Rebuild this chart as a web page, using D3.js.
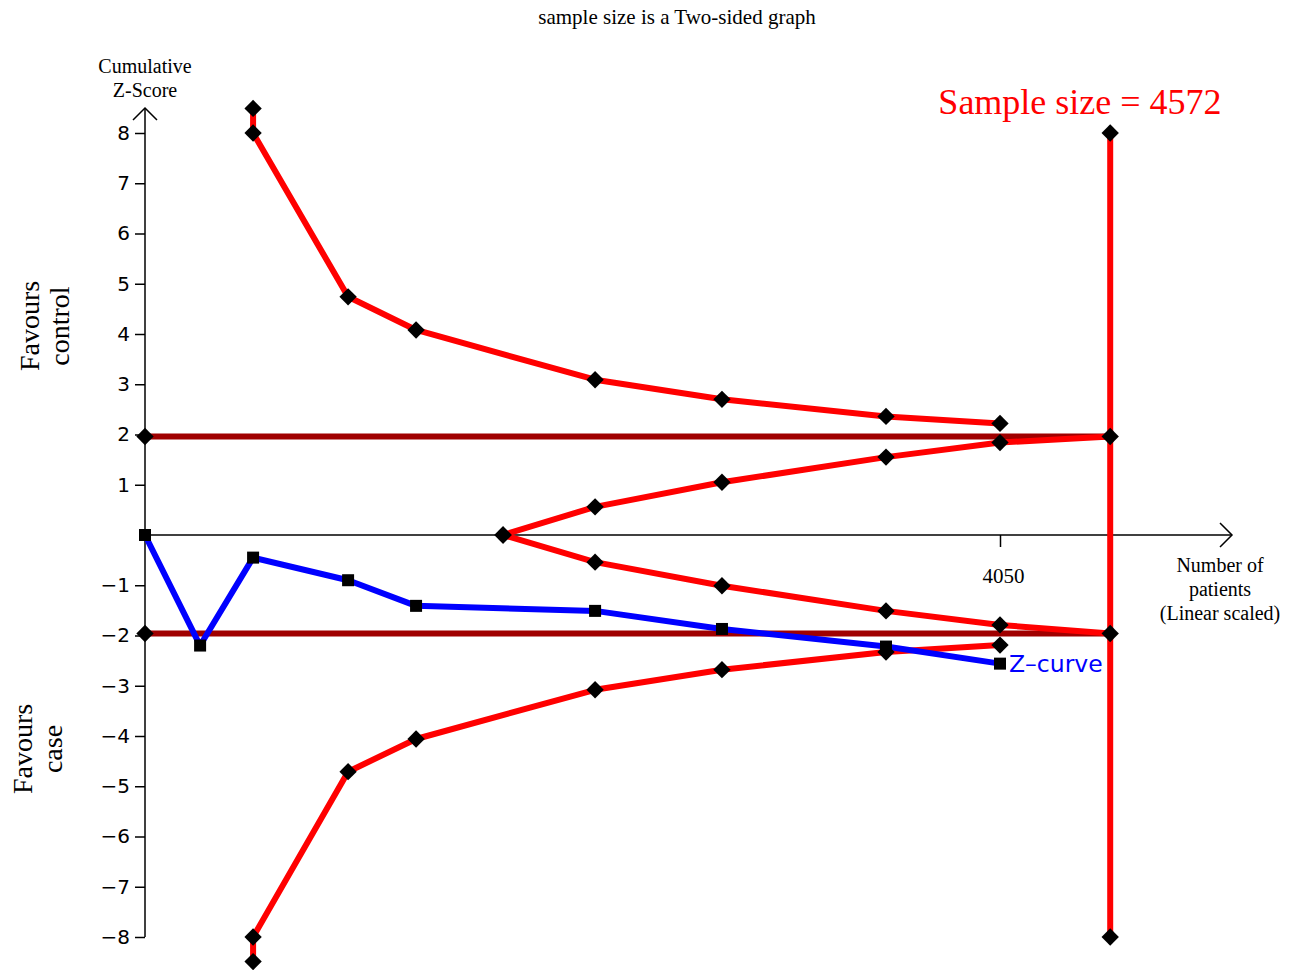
<!DOCTYPE html>
<html>
<head>
<meta charset="utf-8">
<script src="https://cdn.jsdelivr.net/npm/d3@7"></script>
<style>
  html, body { margin: 0; padding: 0; background: #fff; }
  svg { display: block; }
</style>
</head>
<body>
<svg id="chart" width="1299" height="970"></svg>
<script>
// Trial sequential analysis: cumulative Z-curve with monitoring and futility boundaries

const sampleSize = 4572;
const xTickValues = [4050];
const yTickValues = [-8, -7, -6, -5, -4, -3, -2, -1, 1, 2, 3, 4, 5, 6, 7, 8];
const conventional = 1.96;

// Number of patients at each interim look
const looks = [0, 261, 512, 962, 1284, 2132, 2733, 3510, 4050];

// Cumulative Z-curve
const zCurve = [0, -2.2, -0.45, -0.9, -1.41, -1.51, -1.87, -2.22, -2.56];

// Upper monitoring (alpha-spending) boundary
const upperX = [512, 512, 962, 1284, 2132, 2733, 3510, 4050];
const upperZ = [8.49, 8.0, 4.74, 4.08, 3.09, 2.70, 2.36, 2.22];

// Lower monitoring boundary
const lowerX = [512, 512, 962, 1284, 2132, 2733, 3510, 4050];
const lowerZ = [-8.49, -8.0, -4.71, -4.06, -3.08, -2.68, -2.33, -2.19];

// Futility (inner wedge) boundaries
const futX = [1696, 2132, 2733, 3510, 4050, 4572];
const futUpperZ = [0, 0.56, 1.05, 1.55, 1.84, 1.96];
const futLowerZ = [0, -0.54, -1.01, -1.51, -1.79, -1.96];

// Required sample size line
const sampleLineZ = [8, 1.96, -1.96, -8];

const svg = d3.select("#chart");
const serif = "'Liberation Serif', 'Times New Roman', serif";
const sans = "'DejaVu Sans', 'Liberation Sans', sans-serif";

const x = d3.scaleLinear().domain([0, 4050]).range([145, 1000]);
const y = d3.scaleLinear().domain([-8, 8]).range([937, 133]);

const xMaxArrow = x.invert(1232);
const yMaxArrow = y.invert(108);

// Title
svg.append("text")
  .attr("x", 677).attr("y", 24)
  .attr("text-anchor", "middle")
  .attr("font-family", serif).attr("font-size", 21)
  .text("sample size is a Two-sided graph");

// Y axis
const yAxis = d3.axisLeft(y)
  .tickValues(yTickValues)
  .tickSize(10)
  .tickPadding(5)
  .tickFormat(d => d3.format("d")(d).replace("-", "\u2212"));

const gy = svg.append("g")
  .attr("transform", `translate(${x(0)},0)`)
  .call(yAxis);
gy.select(".domain").remove();
gy.selectAll(".tick line").attr("stroke", "#000").attr("stroke-width", 1.5);
gy.selectAll(".tick text")
  .attr("font-family", sans).attr("font-size", 20).attr("fill", "#000");

svg.append("line")
  .attr("x1", x(0)).attr("x2", x(0))
  .attr("y1", y(-8)).attr("y2", y(yMaxArrow))
  .attr("stroke", "#000").attr("stroke-width", 1.5);
svg.append("path")
  .attr("d", `M${x(0) - 12},${y(yMaxArrow) + 12} L${x(0)},${y(yMaxArrow)} L${x(0) + 12},${y(yMaxArrow) + 12}`)
  .attr("fill", "none").attr("stroke", "#000").attr("stroke-width", 1.5);

// X axis
svg.append("line")
  .attr("x1", x(0)).attr("x2", x(xMaxArrow))
  .attr("y1", y(0)).attr("y2", y(0))
  .attr("stroke", "#000").attr("stroke-width", 1.5);
svg.append("path")
  .attr("d", `M${x(xMaxArrow) - 12},${y(0) - 12} L${x(xMaxArrow)},${y(0)} L${x(xMaxArrow) - 12},${y(0) + 12}`)
  .attr("fill", "none").attr("stroke", "#000").attr("stroke-width", 1.5);

const xAxis = d3.axisBottom(x)
  .tickValues(xTickValues)
  .tickSize(12)
  .tickPadding(21)
  .tickFormat(d3.format("d"));
const gx = svg.append("g")
  .attr("transform", `translate(0,${y(0)})`)
  .call(xAxis);
gx.select(".domain").remove();
gx.selectAll(".tick line").attr("stroke", "#000").attr("stroke-width", 1.5);
gx.selectAll(".tick text")
  .attr("font-family", serif).attr("font-size", 21).attr("fill", "#000")
  .attr("dx", 3);

// Axis titles
const yTitle = svg.append("text")
  .attr("text-anchor", "middle")
  .attr("font-family", serif).attr("font-size", 20);
yTitle.append("tspan").attr("x", 145).attr("y", 73).text("Cumulative");
yTitle.append("tspan").attr("x", 145).attr("y", 97).text("Z-Score");

const xTitle = svg.append("text")
  .attr("text-anchor", "middle")
  .attr("font-family", serif).attr("font-size", 20);
xTitle.append("tspan").attr("x", 1220).attr("y", 572).text("Number of");
xTitle.append("tspan").attr("x", 1220).attr("y", 596).text("patients");
xTitle.append("tspan").attr("x", 1220).attr("y", 620).text("(Linear scaled)");

function sideLabel(cx, cy, lines) {
  const t = svg.append("text")
    .attr("transform", `translate(${cx},${cy}) rotate(-90)`)
    .attr("text-anchor", "middle")
    .attr("font-family", serif).attr("font-size", 28);
  lines.forEach((s, i) => t.append("tspan").attr("x", 0).attr("y", i * 30).text(s));
}
sideLabel(39, 326, ["Favours", "control"]);
sideLabel(32, 749, ["Favours", "case"]);

// Conventional significance boundaries (±1.96)
[conventional, -conventional].forEach(v => {
  svg.append("line")
    .attr("x1", x(0)).attr("x2", x(sampleSize))
    .attr("y1", y(v)).attr("y2", y(v))
    .attr("stroke", "#a00000").attr("stroke-width", 6);
});

const line = d3.line().x(d => x(d[0])).y(d => y(d[1]));
const red = "#ff0000";

function drawPath(xs, ys, color) {
  svg.append("path")
    .datum(xs.map((v, i) => [v, ys[i]]))
    .attr("d", line)
    .attr("fill", "none")
    .attr("stroke", color)
    .attr("stroke-width", 6)
    .attr("stroke-linejoin", "round");
}

drawPath(upperX, upperZ, red);
drawPath(lowerX, lowerZ, red);
drawPath(futX, futUpperZ, red);
drawPath(futX, futLowerZ, red);

// Required sample size vertical line
svg.append("line")
  .attr("x1", x(sampleSize)).attr("x2", x(sampleSize))
  .attr("y1", y(8)).attr("y2", y(-8))
  .attr("stroke", red).attr("stroke-width", 6);

// Z-curve
drawPath(looks, zCurve, "#0000ff");

// Markers
function diamonds(xs, ys) {
  svg.append("g").selectAll("path")
    .data(xs.map((v, i) => [v, ys[i]]))
    .join("path")
    .attr("transform", d => `translate(${x(d[0])},${y(d[1])}) rotate(45)`)
    .attr("d", d3.symbol().type(d3.symbolSquare).size(150))
    .attr("fill", "#000");
}
diamonds(upperX, upperZ);
diamonds(lowerX, lowerZ);
diamonds(futX.slice(0, 5), futUpperZ.slice(0, 5));
diamonds(futX.slice(0, 5), futLowerZ.slice(0, 5));
diamonds([0, 0], [conventional, -conventional]);
diamonds(sampleLineZ.map(() => sampleSize), sampleLineZ);

svg.append("g").selectAll("rect")
  .data(looks.map((v, i) => [v, zCurve[i]]))
  .join("rect")
  .attr("x", d => x(d[0]) - 6)
  .attr("y", d => y(d[1]) - 6)
  .attr("width", 12).attr("height", 12)
  .attr("fill", "#000");

// Labels
svg.append("text")
  .attr("x", x(looks[looks.length - 1]) + 9)
  .attr("y", y(zCurve[zCurve.length - 1]) + 8)
  .attr("font-family", sans).attr("font-size", 23.5)
  .attr("fill", "#0000ff")
  .text("Z\u2013curve");

svg.append("text")
  .attr("x", 1080).attr("y", 114)
  .attr("text-anchor", "middle")
  .attr("font-family", serif).attr("font-size", 36)
  .attr("fill", red)
  .text(`Sample size = ${sampleSize}`);
</script>
</body>
</html>
